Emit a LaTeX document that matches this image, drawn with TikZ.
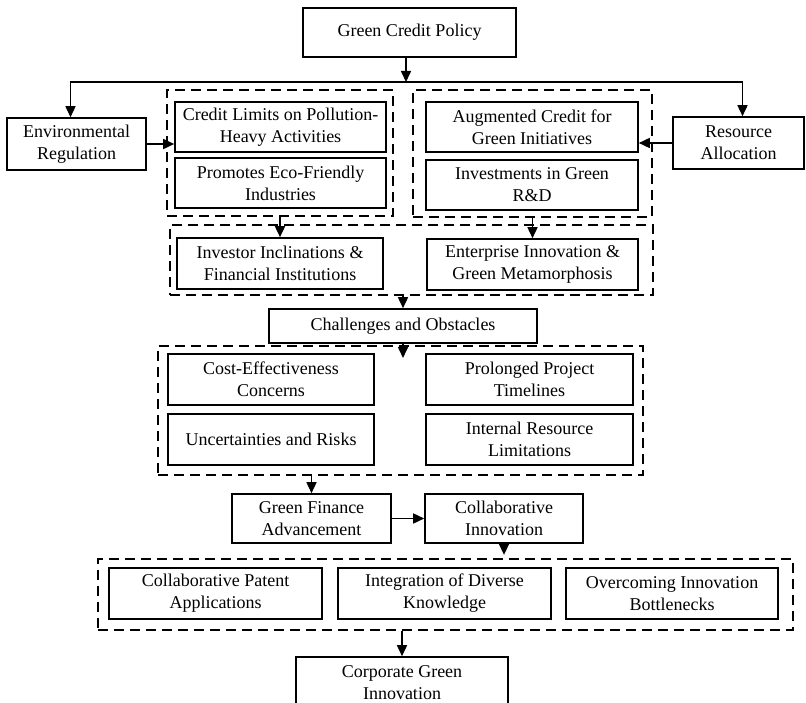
\documentclass[tikz,border=0pt]{standalone}
\usepackage{fontspec}
\setmainfont{Liberation Serif}
\usepackage{tikz}
\usetikzlibrary{arrows.meta}
\tikzset{every picture/.style={line width=1.5pt}}
\tikzset{
	box/.style={draw, line width=1.6pt, align=center, inner sep=0pt, font=\fontsize{18}{22}\selectfont},
	grp/.style={draw, line width=2.3pt, dash pattern=on 10pt off 6pt, inner sep=0pt},
	arr/.style={-{Triangle[length=11pt,width=10pt]}, line width=1.6pt}
}

\begin{document}
\begin{tikzpicture}[x=1pt,y=1pt,yscale=-1,xscale=1]
		\useasboundingbox (0,0) rectangle (806,703);
		
		%Top: policy and its two drivers
		\node [box, minimum width=213pt, minimum height=49pt] (policy) at (409.5,32.5) {Green Credit Policy};
		\node [box, minimum width=139pt, minimum height=52pt] (envreg) at (76.5,144) {Environmental\\Regulation};
		\node [box, minimum width=131pt, minimum height=52pt] (resalloc) at (738.5,143) {Resource\\Allocation};
		\coordinate (split) at (406,82);
		
		%Dashed groups, first row
		\node [grp, minimum width=226pt, minimum height=126pt] (grpL) at (280,153) {};
		\node [grp, minimum width=239pt, minimum height=127pt] (grpR) at (532.5,153.5) {};
		\node [box, minimum width=211pt, minimum height=50pt] (credlim) at (280.5,127) {Credit Limits on Pollution-\\Heavy Activities};
		\node [box, minimum width=211pt, minimum height=50pt] (ecofr) at (280.5,183) {Promotes Eco-Friendly\\Industries};
		\node [box, minimum width=212pt, minimum height=50pt] (augcred) at (532,127) {Augmented Credit for\\Green Initiatives};
		\node [box, minimum width=212pt, minimum height=50pt] (greenrd) at (532,185) {Investments in Green\\R\&D};
		
		%Dashed group, second row
		\node [grp, minimum width=483pt, minimum height=70pt] (grpMid) at (411.5,260) {};
		\node [box, minimum width=206pt, minimum height=51pt] (investor) at (280,263.5) {Investor Inclinations \&\\Financial Institutions};
		\node [box, minimum width=211pt, minimum height=51pt] (enterprise) at (532.5,264.5) {Enterprise Innovation \&\\Green Metamorphosis};
		
		%Challenges
		\node [box, minimum width=268pt, minimum height=34pt] (challenges) at (403,326) {Challenges and Obstacles};
		\node [grp, minimum width=485pt, minimum height=129pt] (grpChal) at (400.5,410.5) {};
		\coordinate (chalin) at (403,358);
		\node [box, minimum width=206pt, minimum height=51pt] (cost) at (271,379.5) {Cost-Effectiveness\\Concerns};
		\node [box, minimum width=207pt, minimum height=51pt] (prolong) at (529.5,379.5) {Prolonged Project\\Timelines};
		\node [box, minimum width=206pt, minimum height=51pt] (uncert) at (271,439.5) {Uncertainties and Risks};
		\node [box, minimum width=207pt, minimum height=51pt] (internal) at (529.5,439.5) {Internal Resource\\Limitations};
		
		%Finance and collaboration
		\node [box, minimum width=159pt, minimum height=49pt] (gfin) at (311.5,518.5) {Green Finance\\Advancement};
		\node [box, minimum width=158pt, minimum height=49pt] (collab) at (504,518.5) {Collaborative\\Innovation};
		
		%Dashed group, bottom row
		\node [grp, minimum width=695pt, minimum height=71pt] (grpBot) at (445.5,594.5) {};
		\node [box, minimum width=213pt, minimum height=51pt] (patent) at (215.5,593.5) {Collaborative Patent\\Applications};
		\node [box, minimum width=213pt, minimum height=51pt] (integ) at (444.5,593.5) {Integration of Diverse\\Knowledge};
		\node [box, minimum width=212pt, minimum height=51pt] (overcome) at (672,593.5) {Overcoming Innovation\\Bottlenecks};
		
		%Outcome
		\node [box, minimum width=212pt, minimum height=51pt] (corp) at (402,682.5) {Corporate Green\\Innovation};
		
		%Connectors
		\draw [arr] (split |- policy.south) -- (split) ;
		\draw [arr] (split) -| ([xshift=-6pt]envreg.north) ;
		\draw [arr] (split) -| ([xshift=4pt]resalloc.north) ;
		\draw [arr] (envreg.east) -- (envreg.east -| credlim.west) ;
		\draw [arr] (resalloc.west) -- (resalloc.west -| augcred.east) ;
		\draw [arr] (grpL.south) -- (investor.north) ;
		\draw [arr] (grpR.south) -- (grpR.south |- enterprise.north) ;
		\draw [arr] (challenges.north |- grpMid.south) -- (challenges.north) ;
		\draw [arr] (challenges.south) -- (chalin) ;
		\draw [arr] (gfin.north |- grpChal.south) -- (gfin.north) ;
		\draw [arr] (gfin.east) -- (collab.west) ;
		\draw [arr] (collab.south) -- ([yshift=-3pt]collab.south |- grpBot.north) ;
		\draw [arr] (corp.north |- grpBot.south) -- (corp.north) ;
		
	\end{tikzpicture}
\end{document}
